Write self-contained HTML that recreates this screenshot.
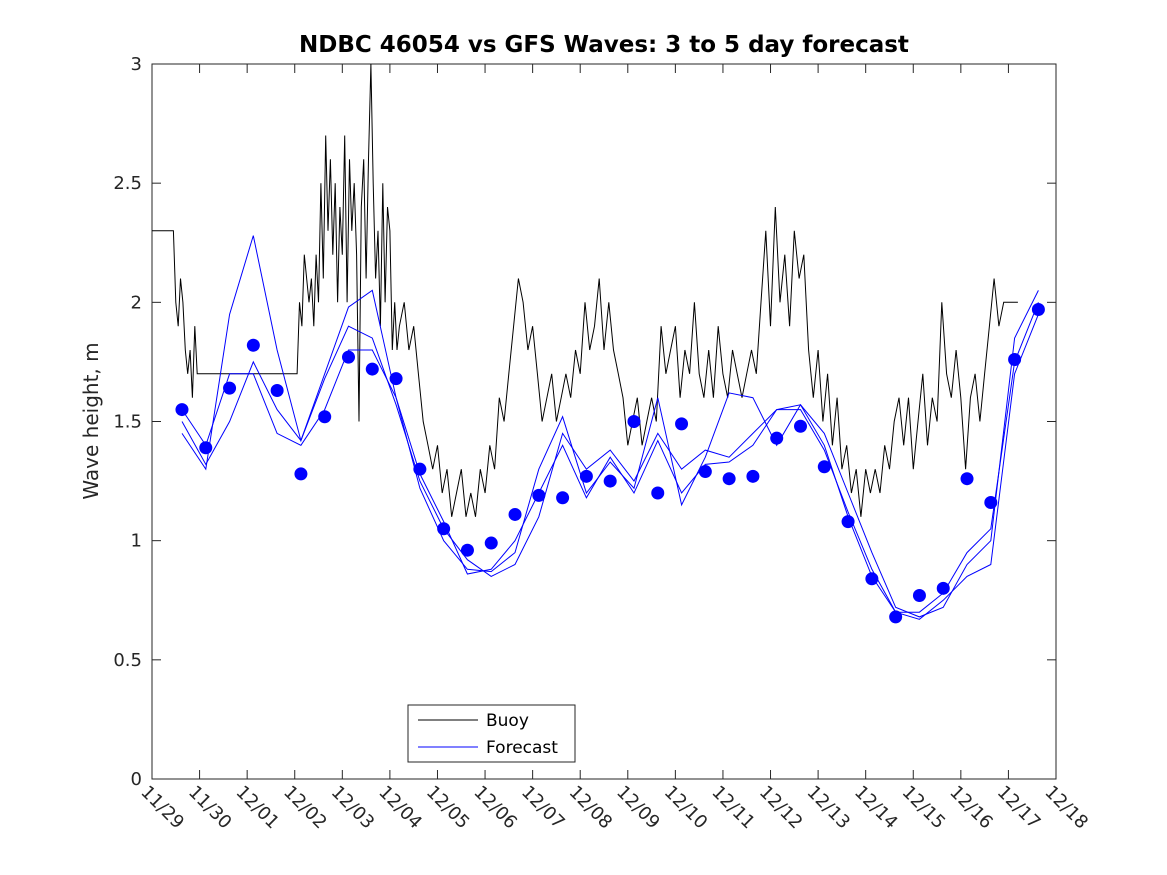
<!DOCTYPE html>
<html><head><meta charset="utf-8"><style>
html,body{margin:0;padding:0;background:#fff;width:1167px;height:875px;overflow:hidden}
svg text{font-family:"DejaVu Sans","Liberation Sans",sans-serif;fill:#262626}
</style></head><body>
<svg id="chart" width="1167" height="875" xmlns="http://www.w3.org/2000/svg">
<rect width="1167" height="875" fill="#fff"/>
<text x="604" y="52" text-anchor="middle" font-size="23" font-weight="bold" style="fill:#000">NDBC 46054 vs GFS Waves: 3 to 5 day forecast</text>
<text transform="translate(98,421) rotate(-90)" text-anchor="middle" font-size="20">Wave height, m</text>
<g id="plot"></g>
<g>
<rect x="408" y="705" width="167" height="57" fill="#fff" stroke="#262626" stroke-width="1"/>
<line x1="418" y1="720" x2="478" y2="720" stroke="#000" stroke-width="1"/>
<text x="486" y="726" font-size="17" style="fill:#000">Buoy</text>
<line x1="418" y1="747" x2="478" y2="747" stroke="#0000ff" stroke-width="1"/>
<text x="486" y="753" font-size="17" style="fill:#000">Forecast</text>
</g>
</svg>
<script>
const xLabels=["11/29","11/30","12/01","12/02","12/03","12/04","12/05","12/06","12/07","12/08","12/09","12/10","12/11","12/12","12/13","12/14","12/15","12/16","12/17","12/18"];
const yTicks=[0,0.5,1,1.5,2,2.5,3];
const buoyT=[0,0.45,0.5,0.55,0.6,0.65,0.7,0.75,0.8,0.85,0.9,0.95,1.0,3.05,3.1,3.15,3.2,3.3,3.35,3.4,3.45,3.5,3.55,3.6,3.65,3.7,3.75,3.8,3.85,3.9,3.95,4.0,4.05,4.1,4.15,4.2,4.25,4.3,4.35,4.4,4.45,4.5,4.55,4.6,4.65,4.7,4.75,4.8,4.85,4.9,4.95,5.0,5.05,5.1,5.15,5.2,5.3,5.4,5.5,5.6,5.7,5.8,5.9,6.0,6.1,6.2,6.3,6.4,6.5,6.6,6.7,6.8,6.9,7.0,7.1,7.2,7.3,7.4,7.5,7.6,7.7,7.8,7.9,8.0,8.1,8.2,8.3,8.4,8.5,8.6,8.7,8.8,8.9,9.0,9.1,9.2,9.3,9.4,9.5,9.6,9.7,9.8,9.9,10.0,10.1,10.2,10.3,10.4,10.5,10.6,10.7,10.8,10.9,11.0,11.1,11.2,11.3,11.4,11.5,11.6,11.7,11.8,11.9,12.0,12.1,12.2,12.3,12.4,12.5,12.6,12.7,12.8,12.9,13.0,13.1,13.2,13.3,13.4,13.5,13.6,13.7,13.8,13.9,14.0,14.1,14.2,14.3,14.4,14.5,14.6,14.7,14.8,14.9,15.0,15.1,15.2,15.3,15.4,15.5,15.6,15.7,15.8,15.9,16.0,16.1,16.2,16.3,16.4,16.5,16.6,16.7,16.8,16.9,17.0,17.1,17.2,17.3,17.4,17.5,17.6,17.7,17.8,17.9,18.0,18.1,18.2,18.3,18.5,19.0];
const buoyV=[2.3,2.3,2.0,1.9,2.1,2.0,1.8,1.7,1.8,1.6,1.9,1.7,1.7,1.7,2.0,1.9,2.2,2.0,2.1,1.9,2.2,2.0,2.5,2.1,2.7,2.3,2.6,2.2,2.5,2.0,2.4,2.2,2.7,2.0,2.6,2.3,2.5,2.2,1.5,2.4,2.6,2.1,2.6,3.0,2.5,2.1,2.3,1.9,2.5,2.0,2.4,2.3,1.8,2.0,1.8,1.9,2.0,1.8,1.9,1.7,1.5,1.4,1.3,1.4,1.2,1.3,1.1,1.2,1.3,1.1,1.2,1.1,1.3,1.2,1.4,1.3,1.6,1.5,1.7,1.9,2.1,2.0,1.8,1.9,1.7,1.5,1.6,1.7,1.5,1.6,1.7,1.6,1.8,1.7,2.0,1.8,1.9,2.1,1.8,2.0,1.8,1.7,1.6,1.4,1.5,1.6,1.4,1.5,1.6,1.5,1.9,1.7,1.8,1.9,1.6,1.8,1.7,2.0,1.7,1.6,1.8,1.6,1.9,1.7,1.6,1.8,1.7,1.6,1.7,1.8,1.7,2.0,2.3,1.9,2.4,2.0,2.2,1.9,2.3,2.1,2.2,1.8,1.6,1.8,1.5,1.7,1.4,1.6,1.3,1.4,1.2,1.3,1.1,1.3,1.2,1.3,1.2,1.4,1.3,1.5,1.6,1.4,1.6,1.3,1.5,1.7,1.4,1.6,1.5,2.0,1.7,1.6,1.8,1.6,1.3,1.6,1.7,1.5,1.7,1.9,2.1,1.9,2.0,2.0,2.0,2.0];
const dotV=[1.55,1.39,1.64,1.82,1.63,1.28,1.52,1.77,1.72,1.68,1.30,1.05,0.96,0.99,1.11,1.19,1.18,1.27,1.25,1.50,1.20,1.49,1.29,1.26,1.27,1.43,1.48,1.31,1.08,0.84,0.68,0.77,0.80,1.26,1.16,1.76,1.97];
const fc1=[1.45,1.30,1.95,2.28,1.80,1.42,1.70,1.98,2.05,1.60,1.22,1.00,0.88,0.87,0.95,1.30,1.52,1.20,1.33,1.22,1.60,1.15,1.35,1.62,1.60,1.40,1.57,1.45,1.20,0.95,0.72,0.68,0.72,0.90,1.00,1.85,2.05];
const fc2=[1.50,1.32,1.50,1.75,1.55,1.42,1.68,1.90,1.85,1.57,1.25,1.05,0.92,0.85,0.90,1.10,1.45,1.30,1.38,1.25,1.45,1.30,1.38,1.35,1.45,1.55,1.57,1.40,1.10,0.85,0.70,0.70,0.78,0.95,1.05,1.75,2.00];
const fc3=[1.55,1.40,1.70,1.70,1.45,1.40,1.55,1.80,1.80,1.60,1.28,1.08,0.86,0.88,1.00,1.20,1.40,1.18,1.35,1.20,1.42,1.20,1.32,1.33,1.40,1.55,1.55,1.38,1.12,0.88,0.70,0.67,0.75,0.85,0.90,1.70,1.95];
const X0=152,X1=1056,Y0=779,Y1=64;
const xs=d=>X0+d*(X1-X0)/19;
const ys=v=>Y0-v*(Y0-Y1)/3;
const dotT=i=>0.63+0.5*i;
const NS="http://www.w3.org/2000/svg";
const g=document.getElementById('plot');
function mk(t,a){const e=document.createElementNS(NS,t);for(const k in a)e.setAttribute(k,a[k]);g.appendChild(e);return e;}
let fr=mk('rect',{x:X0,y:Y1,width:X1-X0,height:Y0-Y1,fill:'none',stroke:'#262626','stroke-width':1});


yTicks.forEach(v=>{
 const y=ys(v);
 mk('line',{x1:X0,y1:y,x2:X0+9,y2:y,stroke:'#262626'});
 mk('line',{x1:X1,y1:y,x2:X1-9,y2:y,stroke:'#262626'});
 const t=mk('text',{x:X0-10,y:y+6,'text-anchor':'end','font-size':18});
 t.textContent=String(v);
 
 
});
xLabels.forEach((l,i)=>{
 const x=xs(i);
 mk('line',{x1:x,y1:Y0,x2:x,y2:Y0-9,stroke:'#262626'});
 mk('line',{x1:x,y1:Y1,x2:x,y2:Y1+9,stroke:'#262626'});
 const t=mk('text',{transform:`translate(${x-12},${Y0+14}) rotate(45)`,'font-size':18});
 t.textContent=l;
 
 
});
let d='';
buoyT.forEach((t,i)=>{d+=(i?'L':'M')+xs(t).toFixed(1)+','+ys(buoyV[i]).toFixed(1);});
const bl=mk('path',{d:d,fill:'none',stroke:'#000','stroke-width':1});


[fc1,fc2,fc3].forEach((s,k)=>{
 let p='';
 s.forEach((v,i)=>{p+=(i?'L':'M')+xs(dotT(i)).toFixed(1)+','+ys(v).toFixed(1);});
 const e=mk('path',{d:p,fill:'none',stroke:'#0000ff','stroke-width':1});
 
 
});
dotV.forEach((v,i)=>{
 const c=mk('circle',{cx:xs(dotT(i)),cy:ys(v),r:6.5,fill:'#0000ff'});
 
 
});
</script>
</body></html>
